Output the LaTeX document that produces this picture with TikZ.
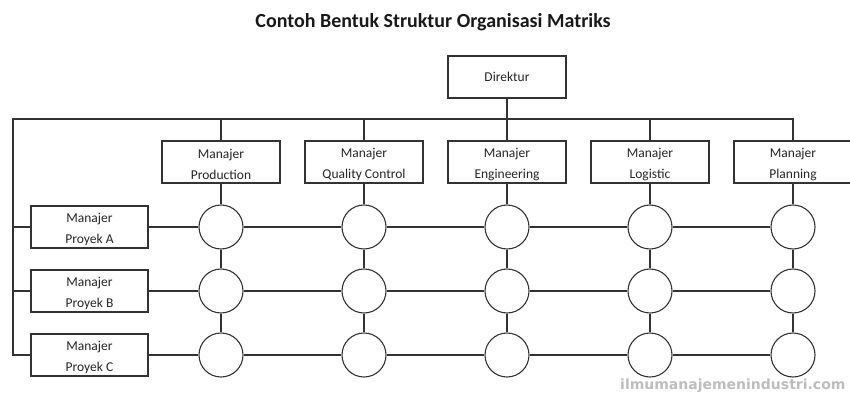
\documentclass[tikz,border=0pt]{standalone}
\usepackage{fontspec}
\setmainfont{Carlito}
\newfontfamily\markfont{DejaVu Sans}
\usetikzlibrary{positioning}
\definecolor{linegray}{HTML}{333333}
\definecolor{markgray}{HTML}{BDBDBD}
\newcommand{\twolines}[2]{\rule{0pt}{15pt}#1\\#2}

\begin{document}
\begin{tikzpicture}[x=1pt, y=-1pt,
    box/.style={draw=linegray, line width=1.1pt, fill=white,
      minimum width=118pt, minimum height=42pt, inner sep=0pt,
      align=center, font=\fontsize{13.5}{21}\selectfont, text=black!85},
    cell/.style={draw=linegray, line width=1.1pt, circle,
      minimum size=44pt, inner sep=0pt},
    link/.style={draw=linegray, line width=1.1pt},
  ]
  \useasboundingbox (0,0) rectangle (850,396);
  \node[font=\bfseries\fontsize{20}{24}\selectfont, text=black!90] (title)
    at (433,22) {Contoh Bentuk Struktur Organisasi Matriks};

  \node[box] (dir) at (507,77) {Direktur};
  \coordinate (lt) at (13,119);

  % manajer fungsional
  \foreach \i/\name in {1/Production,2/Quality Control,3/Engineering,4/Logistic,5/Planning}
    \node[box] (mgr\i) at ({221+143*(\i-1)},162) {\twolines{Manajer}{\name}};

  % manajer proyek
  \foreach \j/\p in {1/A,2/B,3/C}
    \node[box, minimum width=117pt] (pro\j) at (89.5,{227+64*(\j-1)}) {\twolines{Manajer}{Proyek \p}};

  % titik matriks
  \foreach \i in {1,...,5}
    \foreach \j in {1,2,3}
      \node[cell] (c\i\j) at ({221+143*(\i-1)},{227+64*(\j-1)}) {};

  \draw[link] (dir) -- (dir |- lt);
  \draw[link] (pro3.west) -| (lt) -| (mgr5.north);
  \foreach \j in {1,2}
    \draw[link] (pro\j.west) -- (pro\j.west -| lt);
  \foreach \i in {1,...,4}
    \draw[link] (mgr\i.north) -- (mgr\i.north |- lt);

  \foreach \i in {1,...,5}
    \draw[link] (mgr\i) -- (c\i1) -- (c\i2) -- (c\i3);
  \foreach \j in {1,2,3}
    \draw[link] (pro\j) -- (c1\j) -- (c2\j) -- (c3\j) -- (c4\j) -- (c5\j);

  \node[font=\markfont\bfseries\fontsize{14}{16}\selectfont, text=markgray,
    anchor=east] (mark) at (849,386) {ilmumanajemenindustri.com};
\end{tikzpicture}
\end{document}
